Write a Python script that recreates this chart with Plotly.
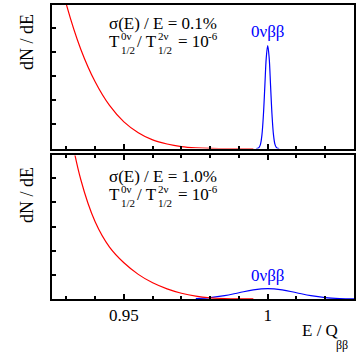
import plotly.graph_objects as go
from plotly.subplots import make_subplots

# ---- data (arbitrary y units, 1 unit = 1 y tick) ----
x_2nu = [0.925, 0.930, 0.935, 0.940, 0.945, 0.950, 0.955, 0.960, 0.965,
         0.970, 0.975, 0.980, 0.985, 0.990, 0.995]
y_2nu_top = [8.43, 5.97, 4.12, 2.77, 1.79, 1.11, 0.66, 0.36, 0.19,
             0.086, 0.035, 0.011, 0.003, 0.0004, 0.0]
y_2nu_bot = [11.8, 7.8, 4.95, 3.2, 2.15, 1.5, 1.02, 0.67, 0.42,
             0.24, 0.12, 0.05, 0.018, 0.005, 0.001]

x_0nu_top = [0.996, 0.9965, 0.997, 0.9975, 0.998, 0.9985, 0.999, 0.9995, 1.0,
             1.0005, 1.001, 1.0015, 1.002, 1.0025, 1.003, 1.0035, 1.004]
y_0nu_top = [0.001, 0.009, 0.047, 0.188, 0.578, 1.39, 2.59, 3.77, 4.27,
             3.77, 2.59, 1.39, 0.578, 0.188, 0.047, 0.009, 0.001]

x_0nu_bot = [0.975, 0.980, 0.985, 0.990, 0.995, 1.000,
             1.005, 1.010, 1.015, 1.020, 1.025, 1.030]
y_0nu_bot = [0.0188, 0.058, 0.139, 0.259, 0.377, 0.427,
             0.377, 0.259, 0.139, 0.058, 0.0188, 0.0047]

x_range = [0.925, 1.03]
y_range = [0, 5.95]
x_major_vals = [0.95, 1.0]
x_major_text = ["0.95", "1"]

SERIF = "Liberation Serif"

fig = make_subplots(rows=2, cols=1, shared_xaxes=False, vertical_spacing=0.023)

fig.add_trace(go.Scatter(x=x_0nu_top, y=y_0nu_top, mode="lines", line_shape="spline",
                         line=dict(color="#0000ff", width=1.2), showlegend=False), row=1, col=1)
fig.add_trace(go.Scatter(x=x_2nu, y=y_2nu_top, mode="lines", line_shape="spline",
                         line=dict(color="#ff0000", width=1.2), showlegend=False), row=1, col=1)
fig.add_trace(go.Scatter(x=x_0nu_bot, y=y_0nu_bot, mode="lines", line_shape="spline",
                         line=dict(color="#0000ff", width=1.2), showlegend=False), row=2, col=1)
fig.add_trace(go.Scatter(x=x_2nu, y=y_2nu_bot, mode="lines", line_shape="spline",
                         line=dict(color="#ff0000", width=1.2), showlegend=False), row=2, col=1)

L, R, T, B = 52, 6, 3, 55
W, H = 360, 354
PW, PH = W - L - R, H - T - B


def px(xp, yp):
    return (xp - L) / PW, (H - B - yp) / PH


common_x = dict(range=x_range, showline=True, linewidth=2, linecolor="black",
                ticks="inside", tickwidth=1.5, ticklen=5, tickcolor="black",
                tickvals=x_major_vals, ticktext=x_major_text,
                minor=dict(dtick=0.01, tick0=0.95, ticks="inside", ticklen=3,
                           tickwidth=1.5, tickcolor="black", showgrid=False),
                showgrid=False, zeroline=False,
                tickfont=dict(family=SERIF, size=17, color="black"))
common_y = dict(range=y_range, showline=True, linewidth=2, linecolor="black",
                ticks="inside", tickwidth=1.5, ticklen=4, tickcolor="black",
                tick0=0, dtick=1, showticklabels=False, mirror=True,
                showgrid=False, zeroline=False)

fig.update_layout(
    width=W, height=H,
    margin=dict(l=L, r=R, t=T, b=B),
    paper_bgcolor="white", plot_bgcolor="white",
    font=dict(family=SERIF),
    xaxis=dict(common_x, domain=[0, 1], mirror=True, showticklabels=False),
    xaxis2=dict(common_x, domain=[0, 1], mirror="ticks", showticklabels=True),
    yaxis=dict(common_y, domain=[0.5115, 1]),
    yaxis2=dict(common_y, domain=[0, 0.4885]),
)

ann = []


def add_text(text, xp, yp, size=17, color="black", xanchor="left", family=SERIF, angle=0,
             yanchor="middle"):
    x, y = px(xp, yp)
    ann.append(dict(text=text, x=x, y=y, xref="paper", yref="paper", showarrow=False,
                    xanchor=xanchor, yanchor=yanchor, textangle=angle, borderpad=0,
                    font=dict(family=family, size=size, color=color)))


for dy, res in [(0, "0.1%"), (154, "1.0%")]:
    add_text("σ(E) / E = " + res, 108, 21.5 + dy)
    add_text("T", 108, 39.3 + dy)
    add_text("0ν", 119.5, 34.5 + dy, size=11)
    add_text("1/2", 119.5, 48 + dy, size=11)
    add_text("/ T", 136, 39.3 + dy)
    add_text("2ν", 157, 34.5 + dy, size=11)
    add_text("1/2", 157, 48 + dy, size=11)
    add_text("= 10", 177, 39.3 + dy)
    add_text("-6", 207, 34.5 + dy, size=11)
    add_text("dN / dE", 27, 11 + dy, size=18, angle=-90, xanchor="center", yanchor="top")

add_text("0νββ", 267.7, 29.5, color="#0000ff", xanchor="center")
add_text("0νββ", 267.7, 275, color="#0000ff", xanchor="center")

add_text("E / Q", 338.5, 330.5, xanchor="right")
add_text("ββ", 349, 345.5, size=12, xanchor="right")

fig.update_layout(annotations=ann)

fig.write_html("out.html")
